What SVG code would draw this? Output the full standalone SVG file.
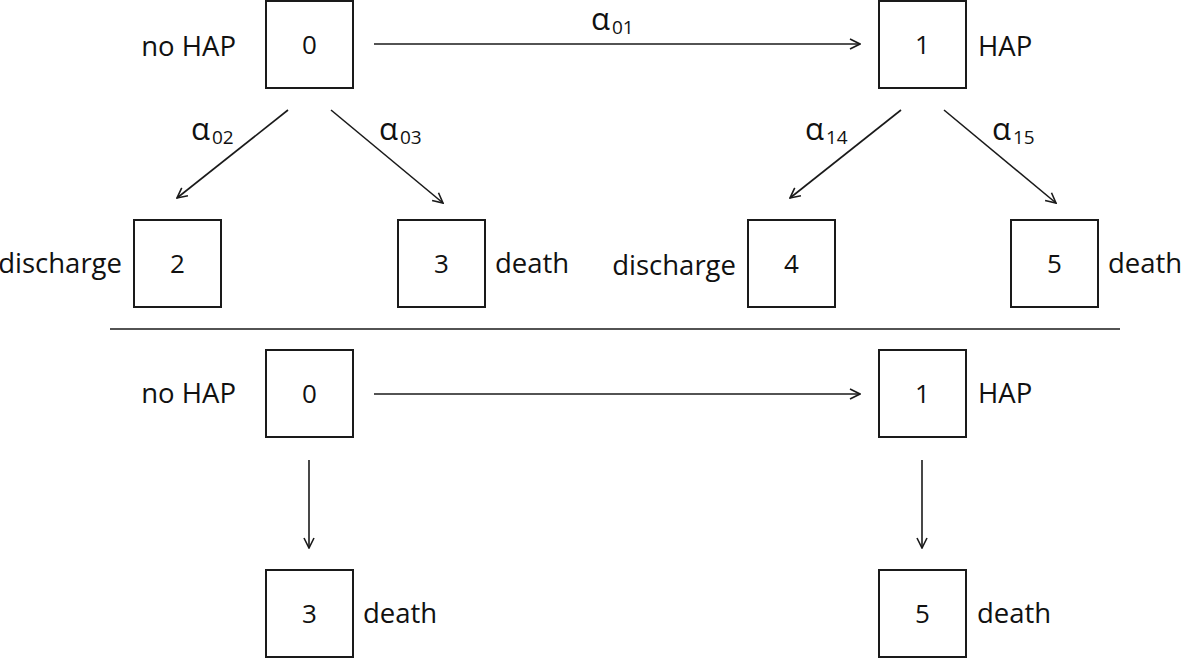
<svg xmlns="http://www.w3.org/2000/svg" width="1181" height="658" viewBox="0 0 1181 658">
<style>
.box{fill:#fff;stroke:#1a1a1a;stroke-width:2}
.num{font-family:"Open Sans","Noto Sans",sans-serif;font-size:26px;fill:#111;text-anchor:middle}
.lbl{font-family:"Open Sans","Noto Sans",sans-serif;font-size:27.5px;fill:#111}
.al{font-family:"Open Sans","Noto Sans",sans-serif;font-size:31px;fill:#111}
.sub{font-size:19px}
.conn{stroke:#1a1a1a;stroke-width:1.6;fill:none;marker-end:url(#ah)}
</style>
<defs>
<marker id="ah" viewBox="0 0 12 12" refX="11" refY="6" markerWidth="12" markerHeight="12" markerUnits="userSpaceOnUse" orient="auto">
<path d="M1,1 L11,6 L1,11" fill="none" stroke="#1a1a1a" stroke-width="1.6"/>
</marker>
</defs>
<rect width="1181" height="658" fill="#fff"/>
<g id="top-0"><rect class="box" x="266" y="1" width="87" height="87"/><text class="num" x="309.5" y="54">0</text><text class="lbl" x="236" y="56" text-anchor="end">no HAP</text></g>
<g id="top-1"><rect class="box" x="879" y="1" width="87" height="87"/><text class="num" x="922.5" y="54">1</text><text class="lbl" x="978" y="56">HAP</text></g>
<g id="top-2"><rect class="box" x="134" y="220" width="87" height="87"/><text class="num" x="177.5" y="273">2</text><text class="lbl" x="122" y="273" text-anchor="end">discharge</text></g>
<g id="top-3"><rect class="box" x="398" y="220" width="87" height="87"/><text class="num" x="441.5" y="273">3</text><text class="lbl" x="495" y="273">death</text></g>
<g id="top-4"><rect class="box" x="748" y="220" width="87" height="87"/><text class="num" x="791.5" y="273">4</text><text class="lbl" x="736" y="275" text-anchor="end">discharge</text></g>
<g id="top-5"><rect class="box" x="1011" y="220" width="87" height="87"/><text class="num" x="1054.5" y="273">5</text><text class="lbl" x="1108" y="273">death</text></g>
<line x1="110" y1="329" x2="1120" y2="329" stroke="#1a1a1a" stroke-width="1.6"/>
<g id="bot-0"><rect class="box" x="266" y="350" width="87" height="87"/><text class="num" x="309.5" y="403">0</text><text class="lbl" x="236" y="403" text-anchor="end">no HAP</text></g>
<g id="bot-1"><rect class="box" x="879" y="350" width="87" height="87"/><text class="num" x="922.5" y="403">1</text><text class="lbl" x="978" y="403">HAP</text></g>
<g id="bot-3"><rect class="box" x="266" y="570" width="87" height="87"/><text class="num" x="309.5" y="623">3</text><text class="lbl" x="363" y="623">death</text></g>
<g id="bot-5"><rect class="box" x="879" y="570" width="87" height="87"/><text class="num" x="922.5" y="623">5</text><text class="lbl" x="977" y="623">death</text></g>
<g id="connectors">
<line class="conn" x1="374" y1="44" x2="860" y2="44"/>
<line class="conn" x1="288" y1="110" x2="177" y2="198"/>
<line class="conn" x1="331" y1="110" x2="443" y2="203"/>
<line class="conn" x1="901" y1="110" x2="790" y2="198"/>
<line class="conn" x1="944" y1="110" x2="1056" y2="203"/>
<line class="conn" x1="374" y1="394" x2="860" y2="394"/>
<line class="conn" x1="309" y1="460" x2="309" y2="548"/>
<line class="conn" x1="922" y1="460" x2="922" y2="548"/>
<text class="al" x="591" y="30">α<tspan class="sub" dx="2" dy="4">01</tspan></text>
<text class="al" x="191" y="140">α<tspan class="sub" dx="2" dy="4">02</tspan></text>
<text class="al" x="379" y="140">α<tspan class="sub" dx="2" dy="4">03</tspan></text>
<text class="al" x="805" y="140">α<tspan class="sub" dx="2" dy="4">14</tspan></text>
<text class="al" x="992" y="140">α<tspan class="sub" dx="2" dy="4">15</tspan></text>
</g>
</svg>
